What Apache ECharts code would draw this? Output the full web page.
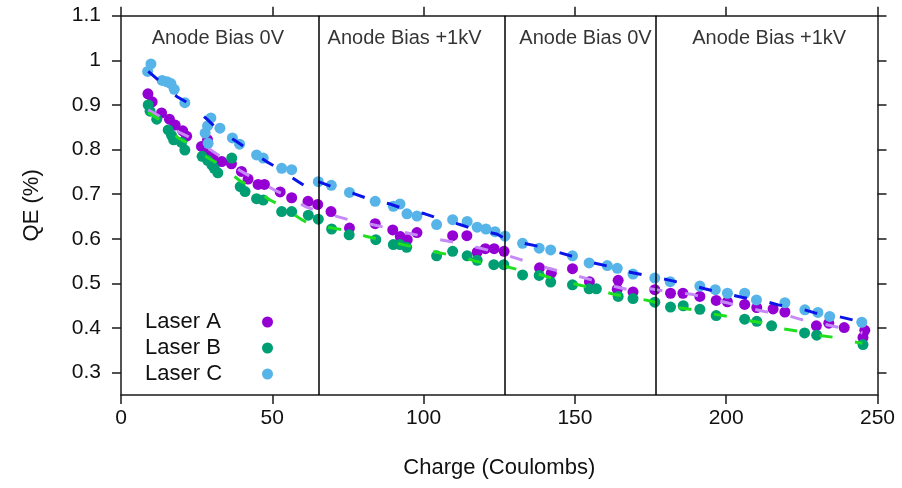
<!DOCTYPE html>
<html>
<head>
<meta charset="utf-8">
<script src="https://cdn.jsdelivr.net/npm/echarts@6/dist/echarts.min.js"></script>
<style>html,body{margin:0;padding:0;background:#fff;}#c{width:902px;height:488px;}</style>
</head>
<body>
<div id="c"></div>
<script>
// ---- data ----
const seriesNames = ['Laser A', 'Laser B', 'Laser C'];
const laserA = [[8.9,0.925],[10.3,0.907],[13.4,0.882],[16,0.868],[17.9,0.855],[20.4,0.842],[21.7,0.830],[26.6,0.807],[28.6,0.822],[28.6,0.790],[30.3,0.783],[33.3,0.773],[36.5,0.768],[39.8,0.751],[42,0.734],[45.3,0.722],[47.4,0.722],[52.6,0.705],[56.4,0.692],[61.8,0.684],[65,0.677],[69.4,0.661],
  [75.5,0.624],[84,0.634],[89.8,0.620],[92.3,0.605],[94.6,0.598],[97.8,0.614],[109.6,0.607],[114.3,0.607],[117.7,0.570],[120.4,0.578],[123.3,0.578],[126.6,0.572],
  [138.3,0.535],[142.2,0.523],[149.2,0.533],[154.8,0.504],[164,0.487],[164.3,0.507],[169.2,0.481],
  [176.4,0.486],[181.6,0.478],[185.7,0.478],[191.3,0.471],[196.7,0.462],[200.4,0.459],[206.1,0.453],[210.1,0.446],[215.5,0.443],[219.4,0.436],[229.8,0.405],[233.9,0.411],[239,0.401],[245.8,0.395],[245.2,0.379]];
const laserB = [[9,0.900],[9.6,0.886],[11.8,0.868],[15.6,0.844],[16.7,0.832],[17.4,0.822],[20,0.816],[21.1,0.799],[26.8,0.785],[28.6,0.776],[30,0.766],[30.8,0.758],[32,0.748],[36.6,0.781],[39.4,0.717],[41,0.706],[44.8,0.690],[47,0.687],[53.1,0.661],[56.4,0.661],[61.9,0.653],[65.2,0.644],
  [69.6,0.622],[75.4,0.609],[84.2,0.598],[90,0.587],[92.2,0.587],[94.4,0.581],[104.3,0.562],[109.6,0.572],[114.4,0.562],[117.7,0.552],[123.2,0.542],[126.5,0.542],
  [132.7,0.519],[138.2,0.518],[142,0.503],[149.2,0.497],[154.7,0.488],[157.1,0.488],[164.3,0.471],[169.2,0.466],
  [176.4,0.458],[181.6,0.447],[185.8,0.450],[191.3,0.442],[196.7,0.428],[206.1,0.420],[210.1,0.415],[215,0.405],[225.9,0.389],[229.9,0.384],[245.2,0.363]];
const laserC = [[8.8,0.975],[9.9,0.992],[13.6,0.955],[15.2,0.952],[16.5,0.948],[17.6,0.935],[21.1,0.905],[27.8,0.837],[28.6,0.853],[28.8,0.814],[29.7,0.871],[32.7,0.848],[36.8,0.826],[39.2,0.812],[44.8,0.788],[47,0.781],[53.1,0.758],[56.4,0.755],
  [65.2,0.728],[69.5,0.720],[75.5,0.704],[84,0.684],[90,0.673],[92.2,0.678],[94.5,0.656],[97.8,0.651],[104.3,0.632],[109.6,0.643],[114.4,0.639],[117.7,0.626],[120.6,0.622],[123.6,0.616],[126.9,0.606],
  [132.7,0.590],[138.2,0.579],[142,0.575],[149.2,0.562],[154.7,0.546],[160.7,0.540],[164,0.534],[169.2,0.521],
  [176.4,0.512],[181.5,0.504],[191.3,0.494],[196.4,0.486],[200.4,0.478],[206.1,0.478],[210,0.463],[219.4,0.457],[226,0.441],[230.3,0.435],[234.2,0.426],[244.8,0.413]];
const fitA = [[9,0.889],[12.9,0.874],[18.9,0.840],[22.2,0.829],[29.4,0.800],[32.7,0.785],[39.3,0.753],[43.2,0.738],[50.3,0.711],[54.2,0.698],[61.3,0.671],[65.7,0.661],[76.7,0.640],[81.2,0.635],[88.9,0.623],[93.3,0.615],[101,0.604],[105.4,0.598],[113.1,0.589],[117.5,0.581],[125.2,0.568],[131.3,0.555],[139,0.538],[143.4,0.530],[151.1,0.516],[155.5,0.508],[163.2,0.493],[167.6,0.486],[174.8,0.488],[180.8,0.482],[189.1,0.475],[193.5,0.467],[200.6,0.456],[205.1,0.448],[212.7,0.437],[217.2,0.434],[224.9,0.419],[229.3,0.413],[237,0.402],[241.4,0.395],[245,0.389]];
const fitB = [[9,0.883],[12.9,0.866],[18.9,0.826],[22.2,0.814],[28.8,0.781],[32.7,0.766],[39.3,0.730],[42.6,0.719],[49.2,0.687],[52.5,0.676],[59.7,0.643],[63,0.631],[66.3,0.629],[70.1,0.624],[76.7,0.616],[81.2,0.605],[88.9,0.594],[93.3,0.587],[101,0.575],[105.4,0.568],[113.1,0.559],[117.5,0.549],[125.2,0.541],[131.3,0.531],[139,0.519],[143.4,0.510],[151.1,0.497],[155.5,0.490],[163.2,0.475],[167.6,0.471],[175.3,0.460],[180.8,0.449],[189.1,0.441],[193.5,0.434],[200.6,0.426],[205.1,0.419],[212.7,0.411],[217.2,0.400],[224.9,0.392],[229.3,0.385],[237,0.378],[241.4,0.370],[245,0.366]];
const fitC = [[9,0.975],[12.3,0.956],[18.4,0.919],[22.2,0.904],[28.6,0.867],[32.1,0.844],[38.2,0.818],[41.5,0.803],[48.1,0.773],[52,0.758],[58.6,0.728],[62.4,0.711],[64.8,0.700],[65,'-'],[65.2,0.728],[69.6,0.717],[76.7,0.702],[81.2,0.691],[88.9,0.678],[92.7,0.669],[100.4,0.656],[104.8,0.646],[112.5,0.631],[116.4,0.622],[124.1,0.611],[127.4,0.599],[130.2,0.594],[139.5,0.581],[143.4,0.572],[151.1,0.557],[155,0.548],[162.6,0.536],[167,0.527],[174.8,0.516],[180.8,0.508],[189.1,0.495],[192.9,0.488],[200.6,0.476],[205.1,0.469],[212.7,0.460],[217.2,0.452],[224.9,0.443],[229.3,0.434],[237,0.426],[241.4,0.419],[245,0.413]];
const biasChanges = [65.2, 126.8, 176.8];
const regionLabels = ['Anode Bias 0V', 'Anode Bias +1kV', 'Anode Bias 0V', 'Anode Bias +1kV'];
const regionLabelX = [32.0, 93.7, 153.5, 214.2];
const regionLabelY = 1.050;
const xTicks = [0, 50, 100, 150, 200, 250];
const yTicks = [0.3, 0.4, 0.5, 0.6, 0.7, 0.8, 0.9, 1, 1.1];

// ---- chart ----
const FONT = '"Liberation Sans", Arial, sans-serif';
const chart = echarts.init(document.getElementById('c'), null, {renderer: 'canvas'});
const baseX = {
  type: 'value', min: 0, max: 250, interval: 50,
  axisLine: {show: true, onZero: false, lineStyle: {color: '#1a1a1a', width: 1.5}},
  axisTick: {show: true, inside: false, length: 9, lineStyle: {color: '#1a1a1a', width: 1.5}},
  splitLine: {show: false}
};
const baseY = {
  type: 'value', min: 0.25, max: 1.1,
  axisLine: {show: true, onZero: false, lineStyle: {color: '#1a1a1a', width: 1.5}},
  axisTick: {show: true, inside: false, length: 9, customValues: yTicks, lineStyle: {color: '#1a1a1a', width: 1.5}},
  splitLine: {show: false}
};
const fitStyle = (c) => ({color: c, width: 3, type: [13, 23]});
chart.setOption({
  animation: false,
  backgroundColor: '#fff',
  textStyle: {fontFamily: FONT},
  grid: {left: 121, right: 24.5, top: 15.7, bottom: 93, containLabel: false},
  legend: {
    orient: 'vertical', left: 145, top: 311, padding: 0, itemGap: 4,
    align: 'right', icon: 'circle', itemWidth: 11, itemHeight: 11,
    data: seriesNames,
    formatter: (name) => '{t|' + name + '}',
    textStyle: {fontFamily: FONT, fontSize: 22, color: '#111', lineHeight: 22,
      rich: {t: {fontFamily: FONT, fontSize: 22, color: '#111', width: 112, align: 'left', lineHeight: 22}}}
  },
  xAxis: [
    Object.assign({}, baseX, {
      position: 'bottom',
      name: 'Charge (Coulombs)', nameLocation: 'middle', nameGap: 62,
      nameTextStyle: {fontFamily: FONT, fontSize: 22, color: '#111'},
      axisLabel: {show: true, margin: 13, fontFamily: FONT, fontSize: 21, color: '#111', customValues: xTicks}
    }),
    Object.assign({}, baseX, {position: 'top', axisLabel: {show: false}})
  ],
  yAxis: [
    Object.assign({}, baseY, {
      position: 'left',
      name: 'QE (%)', nameLocation: 'middle', nameGap: 78, nameRotate: 90,
      nameTextStyle: {fontFamily: FONT, fontSize: 22, color: '#111'},
      axisLabel: {show: true, margin: 20, fontFamily: FONT, fontSize: 21, color: '#111', customValues: yTicks,
        formatter: (v) => String(Math.round(v * 10) / 10)}
    }),
    Object.assign({}, baseY, {position: 'right', axisLabel: {show: false}})
  ],
  series: [
    {name: 'Laser A', type: 'scatter', data: laserA, symbolSize: 11, itemStyle: {color: '#9400D3', opacity: 1}, z: 2},
    {name: 'Laser B', type: 'scatter', data: laserB, symbolSize: 11, itemStyle: {color: '#009E73', opacity: 1}, z: 2},
    {name: 'Laser C', type: 'scatter', data: laserC, symbolSize: 11, itemStyle: {color: '#56B4E9', opacity: 1}, z: 2},
    {name: 'fitA', type: 'line', data: fitA, showSymbol: false, symbol: 'none', lineStyle: fitStyle('#C58AF7'), z: 3, silent: true},
    {name: 'fitB', type: 'line', data: fitB, showSymbol: false, symbol: 'none', lineStyle: fitStyle('#1FE01F'), z: 3, silent: true},
    {name: 'fitC', type: 'line', data: fitC, showSymbol: false, symbol: 'none', connectNulls: false, lineStyle: fitStyle('#0a14e8'), z: 3, silent: true},
    {
      name: 'regions', type: 'scatter', symbolSize: 0, silent: true, z: 4,
      data: regionLabelX.map((x, i) => ({value: [x, regionLabelY], label: {formatter: regionLabels[i]}})),
      label: {show: true, position: 'inside', fontFamily: FONT, fontSize: 20, color: '#000'},
      markLine: {
        silent: true, symbol: 'none', animation: false,
        label: {show: false},
        lineStyle: {color: '#000', width: 1.5, type: 'solid'},
        data: biasChanges.map(x => ({xAxis: x}))
      }
    }
  ]
});
</script>
</body>
</html>
